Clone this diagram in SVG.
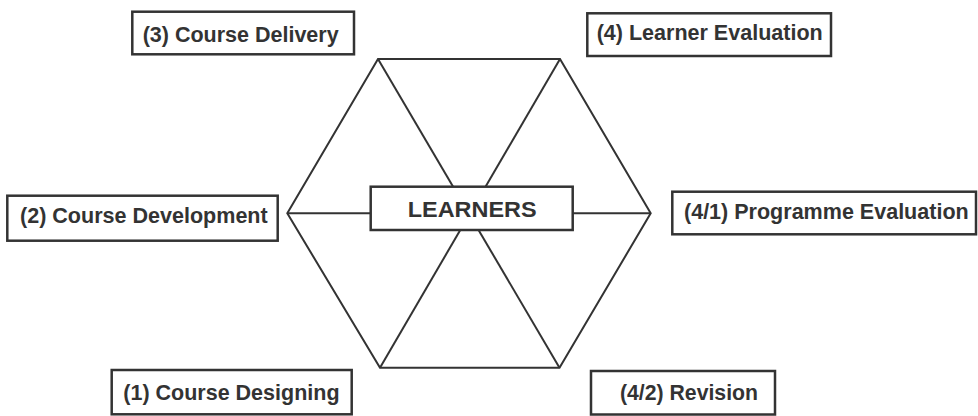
<svg xmlns="http://www.w3.org/2000/svg" width="978" height="416" viewBox="0 0 978 416">
<style>
.box{fill:#fff;stroke:#333;stroke-width:2.5}
.ln{fill:none;stroke:#333;stroke-width:2;stroke-linejoin:miter}
.t{font-family:"Liberation Sans",Arial,sans-serif;font-weight:bold;font-size:21.5px;fill:#333}
</style>
<rect width="978" height="416" fill="#fff"/>
<g id="connectors">
<polygon class="ln" points="378,59 560,59 650.7,213.3 559.5,367.7 380,367.7 287.3,213.3"/>
<line class="ln" x1="378" y1="59" x2="559.5" y2="367.7"/>
<line class="ln" x1="560" y1="59" x2="380" y2="367.7"/>
<line class="ln" x1="287.3" y1="213.3" x2="650.7" y2="213.3"/>
</g>
<g id="learners">
<rect class="box" x="370.7" y="186.7" width="202" height="43.3"/>
<text class="t" x="407.7" y="216.7" textLength="129" lengthAdjust="spacingAndGlyphs">LEARNERS</text>
</g>
<g id="course-delivery">
<rect class="box" x="132.3" y="11.7" width="221.7" height="42.6"/>
<text class="t" x="142.7" y="41.5">(3) Course Delivery</text>
</g>
<g id="learner-evaluation">
<rect class="box" x="587.3" y="13.3" width="243.7" height="42.7"/>
<text class="t" x="596.7" y="40" textLength="226" lengthAdjust="spacingAndGlyphs">(4) Learner Evaluation</text>
</g>
<g id="course-development">
<rect class="box" x="7.3" y="195.7" width="270.4" height="45"/>
<text class="t" x="20" y="223.3" textLength="247.7" lengthAdjust="spacingAndGlyphs">(2) Course Development</text>
</g>
<g id="programme-evaluation">
<rect class="box" x="672.3" y="191.7" width="303.7" height="42.6"/>
<text class="t" x="684" y="219.3" textLength="284.7" lengthAdjust="spacingAndGlyphs">(4/1) Programme Evaluation</text>
</g>
<g id="course-designing">
<rect class="box" x="111.7" y="370" width="240" height="44.3"/>
<text class="t" x="123.3" y="400.3">(1) Course Designing</text>
</g>
<g id="revision">
<rect class="box" x="591" y="371" width="184" height="43.5"/>
<text class="t" x="620" y="400.3" textLength="138" lengthAdjust="spacingAndGlyphs">(4/2) Revision</text>
</g>
</svg>
